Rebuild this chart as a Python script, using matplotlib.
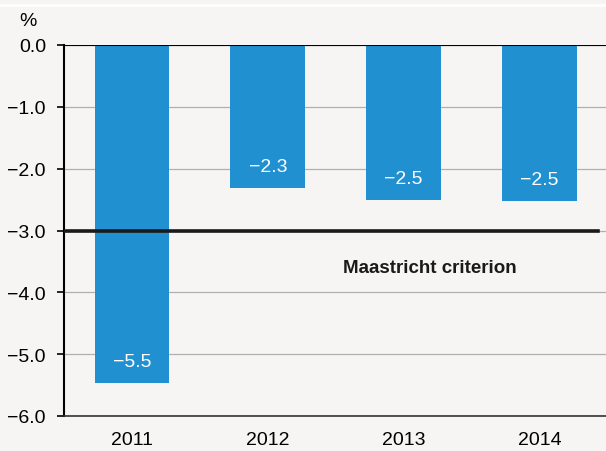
import matplotlib.pyplot as plt
from matplotlib.lines import Line2D

years = ['2011', '2012', '2013', '2014']
deficit = [-5.47, -2.32, -2.51, -2.53]
labels = ['\u22125.5', '\u22122.3', '\u22122.5', '\u22122.5']
yticks = [0.0, -1.0, -2.0, -3.0, -4.0, -5.0, -6.0]
criterion = -3.0

BG = '#f6f5f3'
BLUE = '#2190d0'

plt.rcParams['font.family'] = ['Liberation Sans Narrow', 'Liberation Sans', 'DejaVu Sans']

fig = plt.figure(figsize=(6.06, 4.52), dpi=100, facecolor=BG)
ax = fig.add_axes([64 / 606, 1 - 417 / 452, 1 - 64 / 606, 371 / 452])
ax.set_facecolor(BG)

x = range(len(years))
ax.bar(x, deficit, width=0.55, color=BLUE, zorder=2)
for i, (v, lab) in enumerate(zip(deficit, labels)):
    ax.text(i, v + 0.35, lab, color='white', ha='center', va='center', fontsize=14, zorder=3)

ax.axhline(criterion, xmin=0, xmax=0.985, color='#1a1a1a', lw=2.6, zorder=3)
ax.text(2.19, criterion - 0.6, 'Maastricht criterion', ha='center', va='center',
        fontsize=13.5, fontweight='bold', color='#1a1a1a')
ax.axhline(0, color='black', lw=1.5, zorder=3)

ax.set_ylim(-6, 0)
ax.set_xlim(-0.5, 3.49)
ax.set_yticks(yticks)
ax.set_yticklabels([f'{t:.1f}'.replace('-', '\u2212') for t in yticks], fontsize=14)
ax.set_xticks(list(x))
ax.set_xticklabels(years, fontsize=14)
ax.tick_params(axis='x', length=0, pad=11)
ax.tick_params(axis='y', length=5, width=1.2, direction='out', pad=8)
ax.yaxis.grid(True, color='#b0b0b0', lw=0.9, zorder=0)

for s in ['top', 'right']:
    ax.spines[s].set_visible(False)
ax.spines['left'].set_linewidth(1.5)
ax.spines['bottom'].set_color('#333333')
ax.spines['bottom'].set_linewidth(1.2)

fig.text(28 / 606, 1 - 21 / 452, '%', ha='center', va='center', fontsize=14)
fig.add_artist(Line2D([0, 1], [1 - 6 / 452, 1 - 6 / 452], color='white', lw=2, transform=fig.transFigure))

fig.savefig('out.png', dpi=100, facecolor=BG)
